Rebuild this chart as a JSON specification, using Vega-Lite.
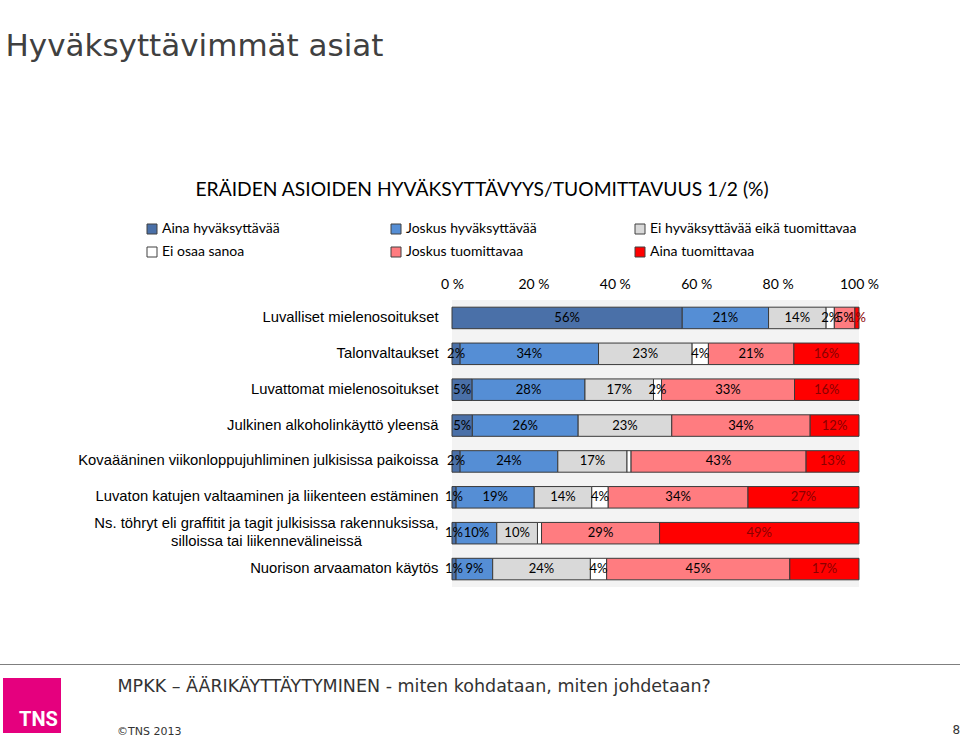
{
  "$schema": "https://vega.github.io/schema/vega-lite/v6.json",
  "width": 407,
  "height": 287,
  "autosize": "none",
  "padding": {"left": 452, "top": 300, "right": 101, "bottom": 150},
  "background": "white",
  "config": {"view": {"fill": "#f3f3f3", "stroke": null}},
  "title": {
    "text": "©TNS 2013",
    "orient": "top",
    "anchor": "start",
    "frame": "group",
    "dx": -335,
    "offset": 0,
    "dy": 716,
    "baseline": "alphabetic",
    "font": "DejaVu Sans",
    "fontSize": 11,
    "fontWeight": "normal",
    "color": "#333333"
  },
  "data": {
    "values": [
      {"item": "Luvalliset mielenosoitukset", "cat": "Aina hyväksyttävää", "value": 56, "label": "56%"},
      {"item": "Luvalliset mielenosoitukset", "cat": "Joskus hyväksyttävää", "value": 21, "label": "21%"},
      {"item": "Luvalliset mielenosoitukset", "cat": "Ei hyväksyttävää eikä tuomittavaa", "value": 14, "label": "14%"},
      {"item": "Luvalliset mielenosoitukset", "cat": "Ei osaa sanoa", "value": 2, "label": "2%"},
      {"item": "Luvalliset mielenosoitukset", "cat": "Joskus tuomittavaa", "value": 5, "label": "5%"},
      {"item": "Luvalliset mielenosoitukset", "cat": "Aina tuomittavaa", "value": 1, "label": "1%"},
      {"item": "Talonvaltaukset", "cat": "Aina hyväksyttävää", "value": 2, "label": "2%"},
      {"item": "Talonvaltaukset", "cat": "Joskus hyväksyttävää", "value": 34, "label": "34%"},
      {"item": "Talonvaltaukset", "cat": "Ei hyväksyttävää eikä tuomittavaa", "value": 23, "label": "23%"},
      {"item": "Talonvaltaukset", "cat": "Ei osaa sanoa", "value": 4, "label": "4%"},
      {"item": "Talonvaltaukset", "cat": "Joskus tuomittavaa", "value": 21, "label": "21%"},
      {"item": "Talonvaltaukset", "cat": "Aina tuomittavaa", "value": 16, "label": "16%"},
      {"item": "Luvattomat mielenosoitukset", "cat": "Aina hyväksyttävää", "value": 5, "label": "5%"},
      {"item": "Luvattomat mielenosoitukset", "cat": "Joskus hyväksyttävää", "value": 28, "label": "28%"},
      {"item": "Luvattomat mielenosoitukset", "cat": "Ei hyväksyttävää eikä tuomittavaa", "value": 17, "label": "17%"},
      {"item": "Luvattomat mielenosoitukset", "cat": "Ei osaa sanoa", "value": 2, "label": "2%"},
      {"item": "Luvattomat mielenosoitukset", "cat": "Joskus tuomittavaa", "value": 33, "label": "33%"},
      {"item": "Luvattomat mielenosoitukset", "cat": "Aina tuomittavaa", "value": 16, "label": "16%"},
      {"item": "Julkinen alkoholinkäyttö yleensä", "cat": "Aina hyväksyttävää", "value": 5, "label": "5%"},
      {"item": "Julkinen alkoholinkäyttö yleensä", "cat": "Joskus hyväksyttävää", "value": 26, "label": "26%"},
      {"item": "Julkinen alkoholinkäyttö yleensä", "cat": "Ei hyväksyttävää eikä tuomittavaa", "value": 23, "label": "23%"},
      {"item": "Julkinen alkoholinkäyttö yleensä", "cat": "Joskus tuomittavaa", "value": 34, "label": "34%"},
      {"item": "Julkinen alkoholinkäyttö yleensä", "cat": "Aina tuomittavaa", "value": 12, "label": "12%"},
      {"item": "Kovaääninen viikonloppujuhliminen julkisissa paikoissa", "cat": "Aina hyväksyttävää", "value": 2, "label": "2%"},
      {"item": "Kovaääninen viikonloppujuhliminen julkisissa paikoissa", "cat": "Joskus hyväksyttävää", "value": 24, "label": "24%"},
      {"item": "Kovaääninen viikonloppujuhliminen julkisissa paikoissa", "cat": "Ei hyväksyttävää eikä tuomittavaa", "value": 17, "label": "17%"},
      {"item": "Kovaääninen viikonloppujuhliminen julkisissa paikoissa", "cat": "Ei osaa sanoa", "value": 1, "label": ""},
      {"item": "Kovaääninen viikonloppujuhliminen julkisissa paikoissa", "cat": "Joskus tuomittavaa", "value": 43, "label": "43%"},
      {"item": "Kovaääninen viikonloppujuhliminen julkisissa paikoissa", "cat": "Aina tuomittavaa", "value": 13, "label": "13%"},
      {"item": "Luvaton katujen valtaaminen ja liikenteen estäminen", "cat": "Aina hyväksyttävää", "value": 1, "label": "1%"},
      {"item": "Luvaton katujen valtaaminen ja liikenteen estäminen", "cat": "Joskus hyväksyttävää", "value": 19, "label": "19%"},
      {"item": "Luvaton katujen valtaaminen ja liikenteen estäminen", "cat": "Ei hyväksyttävää eikä tuomittavaa", "value": 14, "label": "14%"},
      {"item": "Luvaton katujen valtaaminen ja liikenteen estäminen", "cat": "Ei osaa sanoa", "value": 4, "label": "4%"},
      {"item": "Luvaton katujen valtaaminen ja liikenteen estäminen", "cat": "Joskus tuomittavaa", "value": 34, "label": "34%"},
      {"item": "Luvaton katujen valtaaminen ja liikenteen estäminen", "cat": "Aina tuomittavaa", "value": 27, "label": "27%"},
      {"item": "Ns. töhryt eli graffitit ja tagit julkisissa rakennuksissa, silloissa tai liikennevälineissä", "cat": "Aina hyväksyttävää", "value": 1, "label": "1%"},
      {"item": "Ns. töhryt eli graffitit ja tagit julkisissa rakennuksissa, silloissa tai liikennevälineissä", "cat": "Joskus hyväksyttävää", "value": 10, "label": "10%"},
      {"item": "Ns. töhryt eli graffitit ja tagit julkisissa rakennuksissa, silloissa tai liikennevälineissä", "cat": "Ei hyväksyttävää eikä tuomittavaa", "value": 10, "label": "10%"},
      {"item": "Ns. töhryt eli graffitit ja tagit julkisissa rakennuksissa, silloissa tai liikennevälineissä", "cat": "Ei osaa sanoa", "value": 1, "label": ""},
      {"item": "Ns. töhryt eli graffitit ja tagit julkisissa rakennuksissa, silloissa tai liikennevälineissä", "cat": "Joskus tuomittavaa", "value": 29, "label": "29%"},
      {"item": "Ns. töhryt eli graffitit ja tagit julkisissa rakennuksissa, silloissa tai liikennevälineissä", "cat": "Aina tuomittavaa", "value": 49, "label": "49%"},
      {"item": "Nuorison arvaamaton käytös", "cat": "Aina hyväksyttävää", "value": 1, "label": "1%"},
      {"item": "Nuorison arvaamaton käytös", "cat": "Joskus hyväksyttävää", "value": 9, "label": "9%"},
      {"item": "Nuorison arvaamaton käytös", "cat": "Ei hyväksyttävää eikä tuomittavaa", "value": 24, "label": "24%"},
      {"item": "Nuorison arvaamaton käytös", "cat": "Ei osaa sanoa", "value": 4, "label": "4%"},
      {"item": "Nuorison arvaamaton käytös", "cat": "Joskus tuomittavaa", "value": 45, "label": "45%"},
      {"item": "Nuorison arvaamaton käytös", "cat": "Aina tuomittavaa", "value": 17, "label": "17%"}
    ]
  },
  "transform": [
    {"calculate": "indexof(['Aina hyväksyttävää','Joskus hyväksyttävää','Ei hyväksyttävää eikä tuomittavaa','Ei osaa sanoa','Joskus tuomittavaa','Aina tuomittavaa'], datum.cat)", "as": "rank"},
    {"stack": "value", "groupby": ["item"], "sort": [{"field": "rank", "order": "ascending"}], "offset": "normalize", "as": ["v0", "v1"]},
    {"calculate": "(datum.v0 + datum.v1) / 2", "as": "mid"}
  ],
  "encoding": {
    "y": {
      "field": "item",
      "type": "nominal",
      "sort": null,
      "scale": {"paddingInner": 0.4, "paddingOuter": 0.2}
    }
  },
  "layer": [
    {
      "mark": {"type": "bar", "stroke": "#3a3a3a", "strokeWidth": 1},
      "encoding": {
        "y": {
          "field": "item",
          "type": "nominal",
          "sort": null,
          "axis": {
            "orient": "left",
            "domain": false,
            "ticks": false,
            "grid": false,
            "labelPadding": {"condition": {"test": "indexof(datum.label, ', ') >= 0", "value": 186}, "value": 14},
            "labelAlign": {"condition": {"test": "indexof(datum.label, ', ') >= 0", "value": "center"}, "value": "right"},
            "labelOffset": {"condition": {"test": "indexof(datum.label, ', ') >= 0", "value": -9}, "value": 0},
            "labelLimit": 500,
            "labelFont": "Liberation Sans",
            "labelFontSize": 14.8,
            "labelColor": "#000000",
            "labelLineHeight": 18,
            "labelExpr": "split(replace(datum.label, ', ', ',|'), '|')",
            "title": "Hyväksyttävimmät asiat",
            "titleFont": "DejaVu Sans",
            "titleFontSize": 31,
            "titleFontWeight": "normal",
            "titleColor": "#404040",
            "titleAngle": 0,
            "titleAlign": "left",
            "titleBaseline": "alphabetic",
            "titleX": -447,
            "titleY": -245
          }
        },
        "x": {
          "field": "v0",
          "type": "quantitative",
          "scale": {"domain": [0, 1]},
          "axis": {
            "orient": "top",
            "values": [0, 0.2, 0.4, 0.6, 0.8, 1],
            "labelExpr": "format(datum.value * 100, 'd') + ' %'",
            "domain": false,
            "ticks": false,
            "grid": false,
            "labelPadding": 9,
            "labelFont": "Lato",
            "labelFontSize": 14,
            "labelColor": "#000000",
            "labelFlush": false,
            "title": "ERÄIDEN ASIOIDEN HYVÄKSYTTÄVYYS/TUOMITTAVUUS 1/2 (%)",
            "titleFont": "Lato",
            "titleFontSize": 19.25,
            "titleFontWeight": "normal",
            "titleColor": "#000000",
            "titleAlign": "left",
            "titleBaseline": "alphabetic",
            "titleAnchor": "start",
            "titleX": -257,
            "titleY": -105
          }
        },
        "x2": {"field": "v1"},
        "color": {
          "field": "cat",
          "type": "nominal",
          "scale": {
            "domain": ["Aina hyväksyttävää", "Joskus hyväksyttävää", "Ei hyväksyttävää eikä tuomittavaa", "Ei osaa sanoa", "Joskus tuomittavaa", "Aina tuomittavaa"],
            "range": ["#4A70A8", "#558ED5", "#D9D9D9", "#FFFFFF", "#FF7C80", "#FF0000"]
          },
          "legend": {
            "orient": "none",
            "legendX": -307,
            "legendY": -78,
            "columns": 3,
            "direction": "horizontal",
            "gridAlign": "all",
            "title": null,
            "padding": 0,
            "symbolType": "square",
            "symbolSize": 100,
            "symbolStrokeColor": "#404040",
            "symbolStrokeWidth": 1,
            "labelFont": "Lato",
            "labelFontSize": 14,
            "labelColor": "#000000",
            "labelOffset": 3,
            "labelLimit": 400,
            "rowPadding": 9,
            "columnPadding": 20
          }
        }
      }
    },
    {
      "mark": {"type": "text", "font": "Lato", "fontSize": 13},
      "encoding": {
        "y": {
          "field": "item",
          "type": "nominal",
          "sort": null,
          "axis": {
            "orient": "right",
            "domain": false,
            "ticks": false,
            "grid": false,
            "labels": false,
            "title": "8",
            "titleFont": "DejaVu Sans",
            "titleFontSize": 12,
            "titleFontWeight": "normal",
            "titleColor": "#333333",
            "titleAngle": 0,
            "titleAlign": "left",
            "titleBaseline": "alphabetic",
            "titleX": 93,
            "titleY": 433
          }
        },
        "x": {
          "field": "mid",
          "type": "quantitative",
          "axis": {
            "orient": "bottom",
            "domain": false,
            "ticks": false,
            "grid": false,
            "labels": false,
            "title": "MPKK – ÄÄRIKÄYTTÄYTYMINEN - miten kohdataan, miten johdetaan?",
            "titleFont": "DejaVu Sans",
            "titleFontSize": 17.5,
            "titleFontWeight": "normal",
            "titleColor": "#333333",
            "titleAlign": "left",
            "titleBaseline": "alphabetic",
            "titleX": -335,
            "titleY": 104
          }
        },
        "text": {"field": "label"},
        "color": {
          "condition": {"test": "datum.cat === 'Aina tuomittavaa'", "value": "#8B0000"},
          "value": "#000000"
        },
        "opacity": {
          "datum": "TNS",
          "type": "nominal",
          "scale": {"range": [1]},
          "legend": {
            "orient": "none",
            "legendX": -449,
            "legendY": 378,
            "title": " ",
            "titleFontSize": 10,
            "titlePadding": 19,
            "fillColor": "#E5007E",
            "padding": 3,
            "symbolSize": 0,
            "symbolStrokeWidth": 0,
            "labelFont": "Roboto",
            "labelFontWeight": "bold",
            "labelFontSize": 20,
            "labelColor": "#FFFFFF",
            "labelOffset": -7
          }
        },
        "strokeWidth": {
          "datum": "line",
          "type": "nominal",
          "scale": {"range": [0]},
          "legend": {
            "orient": "bottom-left",
            "offset": -470,
            "title": null,
            "strokeColor": "#7f7f7f",
            "padding": 194,
            "symbolSize": 0,
            "symbolStrokeWidth": 0,
            "labelFontSize": 10,
            "labelLimit": 5000,
            "labelColor": "rgba(0,0,0,0)",
            "labelOffset": 0,
            "labelExpr": "'MMMMMMMMMMMMMMMMMMMMMMMMMMMMMMMMMMMMMMMMMMMMMMMMMMMMMMMMMMMMMMMMMMMMMMMMMMMMMMMMMMMMMMMMMMMMMMMMMMMMMMMMMMMMMMMMMMMM'",
            "encode": {"legend": {"strokeWidth": {"value": 2}}}
          }
        }
      }
    }
  ],
  "resolve": {"axis": {"x": "independent", "y": "independent"}}
}
